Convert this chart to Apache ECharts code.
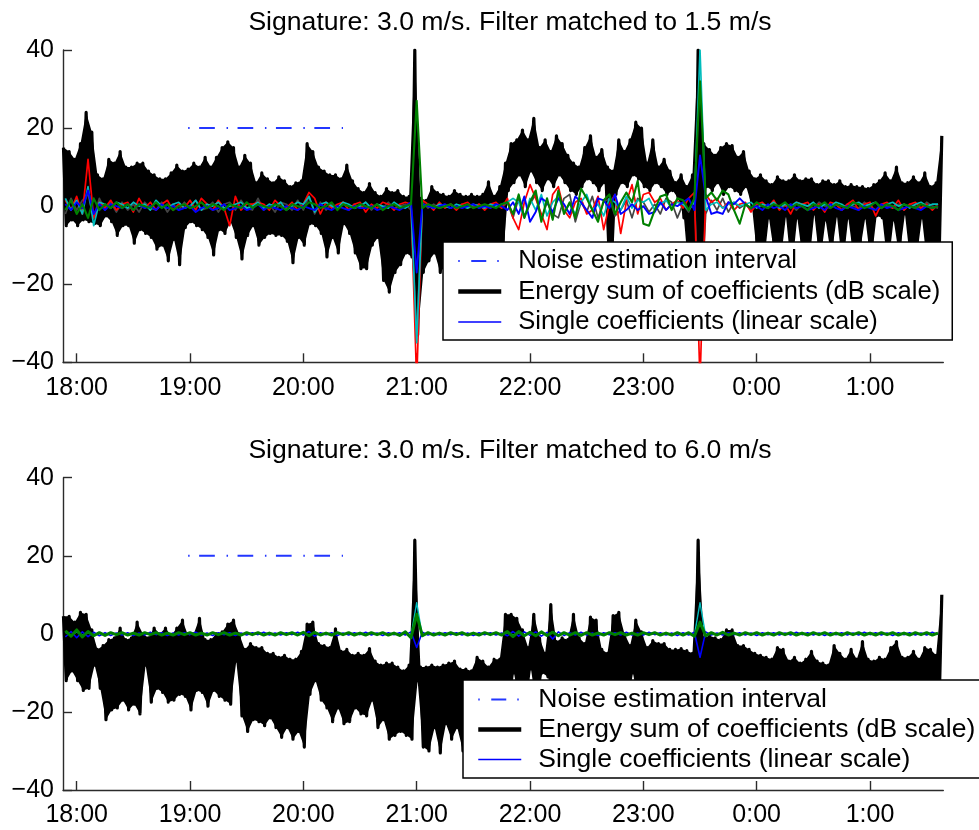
<!DOCTYPE html>
<html>
<head>
<meta charset="utf-8">
<script src="https://cdn.jsdelivr.net/npm/echarts@6/dist/echarts.min.js"></script>
<style>
  html, body { margin: 0; padding: 0; background: #fff; }
  #chart { width: 979px; height: 830px; }
</style>
</head>
<body>
<div id="chart"></div>
<script>
// Time axis is in minutes after 18:00.
const hourTicks = [0, 60, 120, 180, 240, 300, 360, 420];
const ENERGY_T0 = -7;   // first energy sample
const COEF_T0 = -6;     // first coefficient sample
const STEP = 3;         // minutes between samples

const titles = [
  'Signature: 3.0 m/s. Filter matched to 1.5 m/s',
  'Signature: 3.0 m/s. Filter matched to 6.0 m/s'
];
const legendNames = [
  'Noise estimation interval',
  'Energy sum of coefficients (dB scale)',
  'Single coefficients (linear scale)'
];

// Noise estimation interval: start/end minute and level
const noiseInterval = [59, 141];
const noiseLevel = 20;

// Energy sum (dB), upper and lower swings of each sample pair — 1.5 m/s filter
const energyTopHi = [15,14,12,16,24,19,8,7,12,11,
 14,10,10,11,11,9,8,7,7,8.5,
 10.5,9,9.5,11,10,12.5,10,12.5,15,16.5,
 15,10,13,11,6,8.5,7,6,7.5,6.5,
 5,6,6.5,16,14,10,9,8,8,7,
 10.5,6.5,4.5,3.5,5.8,3.5,2.5,4.5,3.5,4,
 2.5,2.5,40,2,1.5,5,3.5,3,2.5,4,
 3,2.5,3,2.5,3,6.2,2.5,5,11,16,
 17,19.5,17,22.5,15,17,14,18,16,13,
 11,10,15,18,12.5,14.5,10,9,17,14,
 17,21.5,20,11,17,10,12,9,6,8,
 5,8,40,16,14.5,13,15,16,15.5,12.5,
 14,9,7,8,6.5,5.5,7.5,6.5,6.5,8,
 6.5,7,7,5.5,6.5,6.5,5.5,6.5,5,5.5,
 5,5,4.5,5.5,6.5,8.5,6.5,10,6,6,
 7.5,6,8.5,5,6,18];
const energyTopLo = [-5,-3.5,-5,-3.5,-4,-4.5,-5,-2.5,-4,-7.5,
 -5,-5,-9.5,-6,-7,-8,-11,-10,-14,-8.5,
 -15,-5.5,-4,-5,-6,-8,-12.5,-6,-7,-4,
 -8,-13.5,-7.5,-5,-10,-8,-7,-7.5,-7.5,-9,
 -14.5,-8,-10,-4.5,-5,-7,-13,-8,-12,-4.5,
 -7,-12,-16,-16,-10,-8,-19,-22,-17,-15,
 -12,-13,-33,-17,-14,-12,-17,-15,-13,-18,
 -14,-16,-12,-17,-15,-13,-16,-14,4,6,
 8,5,9,6,4,7,5,8,6,4,
 3,5,7,6,4,6,-30,3,6,5,
 8,7,5,4,6,5,3,4,2,-3,
 -20,-15,-25,5,4,6,3,5,4,3,
 5,0,-14,-16,-3,-13,-15,-2.5,-17,-3,
 -14,-16,-2,-15,-3.5,-13,-2.5,-16,-3,-14,
 -12,-3,-15,-2.5,-3,-16,-3.5,-13,-2,-15,
 -14,-3,-16,-13,-15];

// Energy sum (dB) — 6.0 m/s filter
const energyBotHi = [4.5,4.5,3,5.5,5,1,-4,-3,-1.5,-1,
 1.5,-1.5,-1,3,0,-1,1.5,0,1.5,-0.5,
 1.5,3.5,-0.5,0,4,-1.5,-1.5,0,0.5,2.5,
 3.5,0,-4,-2.5,-3.5,-3.5,-5,-5,-6,-5.5,
 -6.5,-6.5,-4.5,2.5,3,-2.5,-3,-3.5,1.3,-4.5,
 -4,-5.5,-5,-5.5,-3.8,-7,-8,-7.5,-7.5,-8.5,
 -9.5,-8,24,-8.5,-8.5,-8,-8.5,-8,-7.5,-7,
 -9,-9,-9.5,-6,-7,-8.5,-6.5,-6.5,5,5,
 4,1,-3.5,5,-1,-5,7.5,-2,-1,-1.5,
 5,-1,-2.5,4.3,3.5,-4,-5,4.7,5.5,0,
 -3,3.5,0.5,-3.5,-1.7,-2.5,-2.5,-4,-4,-3.8,
 -4.3,-5,24,-1,-0.5,-1,-1.5,1,1,-3,
 -3,-4,-5,-5.5,-6,-6.5,-3.5,-4,-7,-6,
 -7.5,-6.5,-4.5,-7,-7.5,-8,-3,-5,-6.5,-4,
 -6.5,-2,-6.5,-7,-6,-6.5,-3.5,-2,-6,-6,
 -4.5,-6.5,-3.5,-4,-5.5,10];
const energyBotLo = [-12,-9.5,-12,-14.5,-14,-8,-14,-22,-19.5,-19,
 -17,-19.5,-18,-20.5,-8,-17.5,-14,-15,-17.5,-17,
 -15.5,-16,-19.5,-14.5,-15,-18.5,-14.5,-16,-17,-18,
 -7,-21,-25,-22,-22.5,-23.5,-21.5,-24,-26.5,-24,
 -27,-25,-29,-15.5,-12,-17,-19,-22.5,-19,-23,
 -22.5,-19,-20.5,-21,-17,-24,-22,-27,-26,-25,
 -26,-27,-12,-29,-30,-24,-30.5,-23,-27,-24,
 -30,-25,-16,-20,-18,-22,-19,-17,-21,-10,
 -18,-20,-9,-19,-10,-11,-18,-20,-17,-19,
 -22,-18,-20,-17,-19,-21,-18,-20,-17,-19,
 -10,-18,-20,-17,-19,-22,-18,-21,-17,-20,
 -23,-19,-12,-20,-18,-22,-19,-21,-17,-20,
 -22,-18,-20,-19,-23,-17,-21,-20,-18,-22,
 -19,-21,-17,-20,-23,-18,-21,-19,-20,-22,
 -18,-21,-19,-17,-22,-20,-18,-21,-19,-20,
 -22,-18,-21,-19,-20];

// Single coefficients (linear) — 1.5 m/s filter
const coefTopRed = [1.5,-1,2.5,-2,12,-3,1,-0.5,1.5,-1,
 0.5,1,-1.5,2,-0.5,1,-1,0.5,1.5,-1,
 0.5,-0.5,1.5,-1,2,0.5,-1,1.5,-0.5,-5,
 2.5,-1,0.5,0.5,1,0.5,-1,1.5,0,-0.5,
 1,-1,0.5,3.5,2,-2,1,-0.5,0.5,1,
 -1,0.5,1,-1.5,0.5,-0.5,1,0.5,-1,0.5,
 1,0.5,-45,1.5,0.5,-1,1,-0.5,0.5,-1,
 0.5,1,-0.5,0.5,-1,0.5,1,-0.5,2,-3,
 -6,1,5.5,2,-2,-6,3,5,-1,-3,
 1,2,-2,-1,2.5,-6,0.5,3,-7,1,
 5.5,-2,3,3.5,1,2,-1,0.5,1.5,-0.5,
 2,3.5,-45,3,1,2,-0.5,1,-1,0.5,
 1,-1.5,0.5,1,-0.5,1.5,-1,0.5,-2,1,
 0.5,1,-1,0.5,-1.5,1,0.5,-1,0.5,1.5,
 -1,0.5,1,-2.5,0.5,1,-0.5,1.5,-1,0.5,
 1,-0.5,0.5,-1,0.5];
const coefTopGreen = [-1,1.5,-2,0.5,-3,2,-1,0.5,-0.5,1,
 -0.5,0.5,-1,0.5,0,-0.5,1,-0.5,0.5,-1,
 0,0.5,-0.5,0,1,-0.5,0.5,0,-1,0.5,
 0,-0.5,1,-0.5,0.5,0,-0.5,0.5,0,-1,
 0.5,0,-0.5,1,0.5,-0.5,0,1,-1,0.5,
 0,-0.5,0.5,0,-0.5,0.5,-1,0,0.5,-0.5,
 0,0.5,27,-0.5,0.5,0,-0.5,0,0.5,-0.5,
 0,0.5,-0.5,0,0.5,0,-0.5,0.5,1,-2,
 3,-3,1,4,-4,2,-3.5,4,-2,1,
 -3,4.5,2,-1,-4,1.5,3,-2,1,3.5,
 1,6.5,-4.5,-5,-1,2.5,3,-1,2,1.5,
 -1,2,32,2,3.5,1.5,4,3,-1,-4.5,
 0.5,-0.5,1,0,-0.5,0.5,0,1,-0.5,0.5,
 0,-1,0.5,0,1,-0.5,0.5,0,-0.5,1,
 0.5,-0.5,0,1,-0.5,0.5,0,-1,0.5,0,
 -0.5,0.5,0,-0.5,0];
const coefTopBlue = [0.5,-1,1,-0.5,4,-2,0.5,-1,0.5,0,
 -0.5,0.5,-1,0.5,-0.5,0,-1,0.5,-0.5,0,
 -1,-0.5,0,-1.5,-0.5,0,-1,-0.5,0.5,-1,
 -0.5,0,-1,-0.5,0.5,-1,0,-0.5,-1,0,
 -0.5,-1,0,-0.5,-1,0.5,-0.5,-1,0,-0.5,
 -1,0,-0.5,-0.5,0,-1,-0.5,0,-0.5,-1,
 0,1,-17,0.5,0,-0.5,0,0.5,-0.5,0,
 -0.5,0,0.5,-0.5,0,-0.5,0.5,0,-1,1,
 -2,2.5,-4,-1.5,2,1,-1.5,2,0.5,-2,
 2.5,1,-1,-3,2,1.5,-0.5,3,-2,-1,
 0.5,-1,0,-2,-1.5,1,-1,0.5,0,1,
 2,-1,13,2.5,-2,-1.5,-2,1,0.5,2,
 0.5,-0.5,0,-1,0.5,-0.5,0,-1,0.5,-0.5,
 0,-1,-0.5,0,-1,0.5,-0.5,-1,0,-0.5,
 -1,0,-0.5,-1,0.5,-0.5,0,-1,-0.5,0,
 -0.5,-1,0,-0.5,0];
const coefTopCyan = [2,-1,1.5,-2,5,-5,1,0.5,-0.5,1,
 0.5,-0.5,1,0,0.5,-1,1.5,0,-0.5,0.5,
 1,-0.5,0,1.5,-1,0.5,0,1,-0.5,0,
 0.5,1,-0.5,0,1,-0.5,0.5,0,1,-1,
 0,1,0.5,2.5,-1.5,0.5,1,0,-0.5,1,
 0.5,-0.5,0,1,-0.5,0.5,0,-0.5,1,0,
 -0.5,0.5,-35,0.5,0,-0.5,0.5,0,-0.5,0.5,
 0,-0.5,0.5,0,-0.5,0.5,0,0.5,1,2,
 1,-3,2,-1,3,-2.5,1,2.5,-1.5,0.5,
 -2,1,3,-1,0.5,-2.5,2,1,-1,2.5,
 -0.5,1.5,1,2,-1,0.5,1.5,-0.5,1,0.5,
 -1,1,40,-1,0.5,1,-0.5,0.5,1,0,
 0.5,1,-0.5,0.5,0,1,-0.5,0.5,0,1,
 0.5,0,1,-0.5,0.5,0,1,0.5,-0.5,0.5,
 1,0,0.5,1,-0.5,0.5,1,0,0.5,-0.5,
 0.5,1,0,0.5,0.5];
const coefTopGray = [-2,2,-1,1.5,3,-3,2,-1,1,-1.5,
 1,-1,0.5,-1.5,1,-0.5,-1,1,-1.5,0.5,
 -1,1,-0.5,1.5,-1,-0.5,1,-1.5,0.5,1,
 -1,1.5,-0.5,-1,2,-1,0.5,-1.5,1,0.5,
 -1,1.5,-1,2.5,-2,1,-1,0.5,-0.5,1,
 -1,0.5,-0.5,1,-1,0.5,-0.5,1,-0.5,0,
 0.5,-1,-33,1,-0.5,0.5,-0.5,0,0.5,-0.5,
 0.5,-0.5,0,0.5,-0.5,0,0.5,-0.5,1,-3,
 2,-2.5,0.5,3,-3.5,1,-2,-3,2,3,
 -4,1,-1.5,2.5,-3,1,2,-2.5,-1,1.5,
 -3,2,1,-1.5,0.5,-2,2,1,-3,0.5,
 -1.5,2,-30,-2,1.5,-1,2,-1.5,1,-0.5,
 0.5,-1,0.5,0,-0.5,1,-0.5,0,0.5,-1,
 0.5,0,-0.5,1,0,-0.5,0.5,-1,0.5,0,
 -0.5,1,0,-1,0.5,0,-0.5,0.5,-1,0.5,
 0,-0.5,1,0,-0.5];

// Single coefficients (linear) — 6.0 m/s filter
const coefBotGreen = [0.8,-0.6,1,-0.8,0.6,-0.5,0.3,-0.4,0.3,-0.2,
 0.3,-0.3,0.2,-0.3,0.3,-0.2,0.3,-0.3,0.2,-0.3,
 0.3,-0.2,0.3,-0.3,0.2,-0.3,0.3,-0.2,0.3,-0.3,
 0.2,-0.3,0.3,-0.2,0.3,-0.3,0.2,-0.3,0.3,-0.2,
 0.3,-0.3,0.4,-0.5,0.4,-0.3,0.2,-0.3,0.3,-0.2,
 0.3,-0.3,0.2,-0.3,0.3,-0.2,0.3,-0.3,0.2,-0.4,
 0.5,-1,5,-0.5,0.3,-0.3,0.2,-0.3,0.3,-0.2,
 0.3,-0.3,0.2,-0.3,0.3,-0.2,0.3,-0.3,0.6,-0.7,
 0.6,-0.5,0.4,-0.5,0.5,-0.4,0.4,-0.5,0.3,-0.3,
 0.3,-0.4,0.3,-0.3,0.2,-0.3,0.3,-0.2,0.3,-0.3,
 0.2,-0.3,0.3,-0.2,0.3,-0.3,0.2,-0.3,0.3,-0.3,
 0.3,-0.6,3,-0.5,0.3,-0.3,0.4,-0.3,0.2,-0.3,
 0.3,-0.2,0.3,-0.3,0.2,-0.3,0.3,-0.2,0.3,-0.3,
 0.2,-0.3,0.3,-0.2,0.3,-0.3,0.2,-0.3,0.3,-0.2,
 0.3,-0.3,0.2,-0.3,0.3,-0.2,0.3,-0.3,0.2,-0.3,
 0.3,-0.2,0.3,-0.3,0.2];
const coefBotBlue = [-0.8,0.6,-1,0.5,-0.7,0.4,-0.5,0.3,-0.4,0.2,
 -0.3,0.3,-0.4,0.2,-0.3,0.4,-0.2,0.3,-0.4,0.2,
 -0.3,0.3,-0.2,0.4,-0.3,0.2,-0.4,0.3,-0.2,0.3,
 -0.4,0.2,-0.3,0.3,-0.2,0.4,-0.3,0.2,-0.3,0.3,
 -0.2,0.4,-0.3,0.6,-0.6,0.3,-0.2,0.3,-0.4,0.2,
 -0.3,0.3,-0.2,0.4,-0.3,0.2,-0.4,0.3,-0.2,0.3,
 -0.3,0.5,-3.5,0.4,-0.3,0.2,-0.3,0.3,-0.2,0.3,
 -0.3,0.2,-0.4,0.3,-0.2,0.3,-0.3,0.2,-0.5,0.6,
 -0.6,0.5,-0.4,0.5,-0.6,0.4,-1.3,0.5,-0.4,0.3,
 -0.3,0.4,-0.3,0.2,-0.4,0.3,-0.2,0.3,-0.3,0.4,
 -0.3,0.2,-0.3,0.4,-0.2,0.3,-0.3,0.2,-0.4,0.3,
 -0.3,0.4,-6,0.5,-0.3,0.2,-0.3,0.3,-0.2,0.3,
 -0.3,0.2,-0.4,0.3,-0.2,0.3,-0.3,0.2,-0.3,0.4,
 -0.2,0.3,-0.3,0.2,-0.4,0.3,-0.2,0.3,-0.3,0.2,
 -0.3,0.4,-0.2,0.3,-0.3,0.2,-0.4,0.3,-0.2,0.3,
 -0.3,0.2,-0.3,0.4,-0.2];
const coefBotCyan = [0.4,-0.3,0.5,-0.4,0.3,-0.2,0.2,-0.1,0.2,-0.2,
 0.1,-0.2,0.2,-0.1,0.2,-0.2,0.1,-0.2,0.2,-0.1,
 0.2,-0.2,0.1,-0.2,0.2,-0.1,0.2,-0.2,0.1,-0.2,
 0.2,-0.1,0.2,-0.2,0.1,-0.2,0.2,-0.1,0.2,-0.2,
 0.1,-0.2,0.2,-0.3,0.3,-0.2,0.1,-0.2,0.2,-0.1,
 0.2,-0.2,0.1,-0.2,0.2,-0.1,0.2,-0.2,0.1,-0.2,
 0.2,-0.5,8,-0.6,0.2,-0.1,0.2,-0.2,0.1,-0.2,
 0.2,-0.1,0.2,-0.2,0.1,-0.2,0.2,-0.1,0.3,-0.3,
 0.4,-0.3,0.3,-0.4,0.3,-0.2,0.5,-0.3,0.2,-0.2,
 0.2,-0.1,0.2,-0.2,0.1,-0.2,0.2,-0.1,0.2,-0.2,
 0.1,-0.2,0.2,-0.1,0.2,-0.2,0.1,-0.2,0.2,-0.1,
 0.2,-0.4,8,-0.5,0.2,-0.2,0.1,-0.2,0.2,-0.1,
 0.2,-0.2,0.1,-0.2,0.2,-0.1,0.2,-0.2,0.1,-0.2,
 0.2,-0.1,0.2,-0.2,0.1,-0.2,0.2,-0.1,0.2,-0.2,
 0.1,-0.2,0.2,-0.1,0.2,-0.2,0.1,-0.2,0.2,-0.1,
 0.2,-0.2,0.1,-0.2,0.2];

const FONT = "'Liberation Sans', Arial, Helvetica, sans-serif";
const AXIS_COLOR = '#2b2b2b';

// each energy sample pair: the upper swing, then the lower swing half a step later
function energyPoints(hi, lo) {
  const pts = [];
  hi.forEach((v, i) => {
    const t = ENERGY_T0 + STEP * i;
    pts.push([t, v]);
    if (i < lo.length) pts.push([t + STEP / 2, lo[i]]);
  });
  return pts;
}
function coefPoints(vals) {
  return vals.map((v, j) => [COEF_T0 + STEP * j, v]);
}
function clockLabel(m) {
  const h = (18 + Math.round(m / 60)) % 24;
  return h + ':00';
}

const grids = [
  { left: 63, top: 50, width: 880.3, height: 312.3 },
  { left: 63, top: 477.7, width: 880.3, height: 312.3 }
];

function xAxisFor(k) {
  return {
    type: 'value', gridIndex: k, min: -7.25, max: 458.8,
    axisLine: { show: true, onZero: false, lineStyle: { color: AXIS_COLOR, width: 1.4 } },
    axisTick: { show: true, inside: true, length: 9, customValues: hourTicks,
                lineStyle: { color: AXIS_COLOR, width: 1.4 } },
    axisLabel: { customValues: hourTicks, formatter: clockLabel, color: '#000',
                 fontFamily: FONT, fontSize: 25, margin: 13 },
    splitLine: { show: false }
  };
}
function yAxisFor(k) {
  return {
    type: 'value', gridIndex: k, min: -40, max: 40, interval: 20,
    axisLine: { show: true, onZero: false, lineStyle: { color: AXIS_COLOR, width: 1.4 } },
    axisTick: { show: true, inside: true, length: 9, lineStyle: { color: AXIS_COLOR, width: 1.4 } },
    axisLabel: { formatter: v => String(v).replace('-', '\u2212'), color: '#000',
                 fontFamily: FONT, fontSize: 25, margin: 9 },
    splitLine: { show: false }
  };
}

function lineSeries(k, name, data, color, width, extra) {
  return Object.assign({
    type: 'line', name, data, xAxisIndex: k, yAxisIndex: k,
    symbol: 'none', silent: true, animation: false,
    lineStyle: { color, width, join: 'round' },
    itemStyle: { color }
  }, extra || {});
}

// solid body of the energy trace: region swept between its upper and lower swings
function energyBody(k, hi, lo) {
  return {
    type: 'custom', xAxisIndex: k, yAxisIndex: k, silent: true, animation: false,
    data: [[0, 0]],
    renderItem(params, api) {
      const up = hi.map((v, i) => api.coord([ENERGY_T0 + STEP * i, v]));
      const down = lo.map((v, i) => api.coord([ENERGY_T0 + STEP * i + STEP / 2, v])).reverse();
      const cs = params.coordSys;
      return {
        type: 'polygon',
        shape: { points: up.concat(down) },
        style: { fill: '#000', stroke: null },
        clipPath: { type: 'rect', shape: { x: cs.x, y: cs.y, width: cs.width, height: cs.height } }
      };
    }
  };
}

function seriesFor(k, energyHi, energyLo, coefs) {
  const list = [
    energyBody(k, energyHi, energyLo),
    lineSeries(k, legendNames[1], energyPoints(energyHi, energyLo), '#000', 3.2)
  ];
  coefs.forEach(c => list.push(lineSeries(k, c.name, coefPoints(c.values), c.color, c.width)));
  list.push(lineSeries(k, legendNames[0],
    [[noiseInterval[0], noiseLevel], [noiseInterval[1], noiseLevel]], '#2336ff', 2,
    { lineStyle: { color: '#2336ff', width: 2, type: [1.5, 9.5, 15.7, 11.7], cap: 'butt' } }));
  return list;
}

const series = [].concat(
  seriesFor(0, energyTopHi, energyTopLo, [
    { name: 'Coefficient 5', values: coefTopGray,  color: '#444444', width: 1.7 },
    { name: 'Coefficient 1', values: coefTopRed,   color: '#ff0000', width: 1.7 },
    { name: 'Coefficient 4', values: coefTopCyan,  color: '#00bcbc', width: 1.7 },
    { name: legendNames[2],  values: coefTopBlue,  color: '#0000ff', width: 1.9 },
    { name: 'Coefficient 3', values: coefTopGreen, color: '#008000', width: 2.1 }
  ]),
  seriesFor(1, energyBotHi, energyBotLo, [
    { name: 'Coefficient 4', values: coefBotCyan,  color: '#00bcbc', width: 1.4 },
    { name: legendNames[2],  values: coefBotBlue,  color: '#0000ff', width: 1.6 },
    { name: 'Coefficient 3', values: coefBotGreen, color: '#008000', width: 3 }
  ])
);

function legendFor(left, top, fontSize, gap) {
  const hidden = { opacity: 0 };
  return {
    orient: 'vertical', left, top, selectedMode: false,
    backgroundColor: '#fff', borderColor: '#000', borderWidth: 1.5, borderRadius: 0,
    padding: [6, 12, 5, 13], itemGap: gap, itemWidth: 43, itemHeight: 14,
    textStyle: { fontFamily: FONT, fontSize, color: '#000', padding: [0, 0, 0, 12] },
    data: [
      { name: legendNames[0], itemStyle: hidden,
        lineStyle: { color: '#2336ff', width: 1.8, type: [1.5, 11.5, 15, 11] } },
      { name: legendNames[1], itemStyle: hidden, lineStyle: { color: '#000', width: 4.5 } },
      { name: legendNames[2], itemStyle: hidden, lineStyle: { color: '#0000ff', width: 1.5 } }
    ]
  };
}

const option = {
  animation: false,
  backgroundColor: '#fff',
  title: titles.map((text, k) => ({
    text, left: 505, top: k === 0 ? 4 : 432, textAlign: 'center',
    textStyle: { fontFamily: FONT, fontSize: 26.6, fontWeight: 'normal', color: '#000' }
  })),
  grid: grids,
  xAxis: [xAxisFor(0), xAxisFor(1)],
  yAxis: [yAxisFor(0), yAxisFor(1)],
  legend: [legendFor(443, 242, 25.6, 4.5), legendFor(463, 680, 26.5, 3)],
  series
};

const chart = echarts.init(document.getElementById('chart'), null, { renderer: 'canvas' });
chart.setOption(option);
</script>
</body>
</html>
